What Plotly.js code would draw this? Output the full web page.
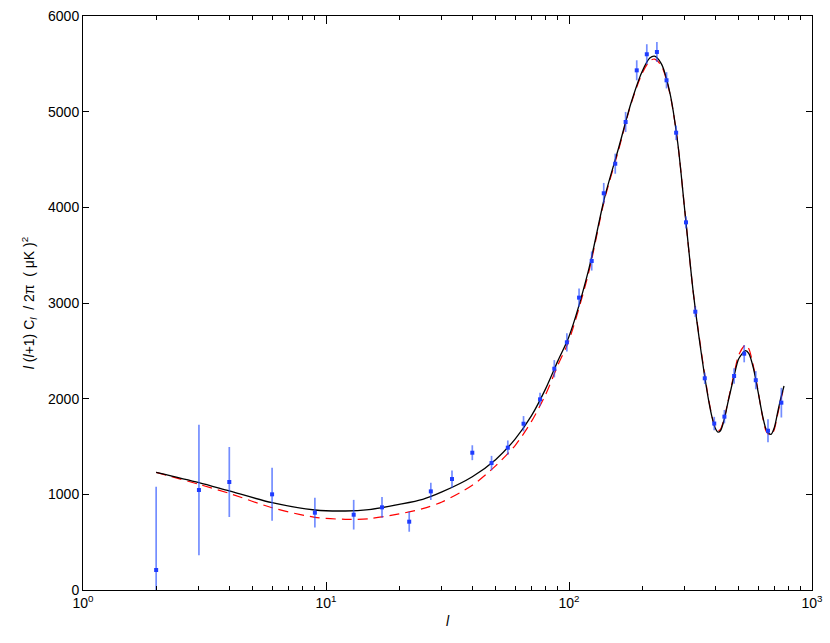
<!DOCTYPE html>
<html>
<head>
<meta charset="utf-8">
<script src="https://cdn.plot.ly/plotly-3.0.1.min.js"></script>
<style>
  html, body { margin: 0; padding: 0; background: #fff; }
  #chart { width: 830px; height: 643px; }
</style>
</head>
<body>
<div id="chart"></div>
<script>
// measured band powers
const ell = [2, 3, 4, 6, 9, 13, 17, 22, 27, 33, 40, 48, 56, 65, 76, 87, 98, 110, 124, 139,
  155, 171, 190, 209, 230, 252, 276, 303, 331, 362, 396, 436, 478, 526, 587, 659, 748];
const power = [209, 1045, 1129, 1000, 808, 787, 864, 714, 1031, 1160, 1435, 1327, 1488, 1738, 1993, 2313, 2589, 3056, 3439, 4147,
  4456, 4892, 5432, 5600, 5624, 5328, 4780, 3843, 2909, 2213, 1740, 1812, 2237, 2470, 2193, 1665, 1958];
const powerErr = [870, 683, 366, 277, 155, 155, 108, 105, 90, 90, 78, 75, 75, 80, 70, 90, 95, 95, 100, 108,
  105, 105, 105, 105, 105, 85, 75, 65, 55, 60, 70, 70, 80, 90, 95, 120, 155];

// best-fit model (solid black)
const modelEll = [2, 3, 4, 6, 9, 12, 15, 20, 25, 30, 40, 50, 60, 70, 80, 90, 100, 120, 140, 160,
  180, 200, 215, 225, 240, 260, 280, 300, 325, 350, 375, 390, 400, 410, 420, 436, 450, 478, 500, 533,
  550, 575, 600, 625, 650, 678, 700, 720, 740, 767];
const modelA = [1230, 1122, 1035, 913, 836, 826, 840, 895, 948, 1025, 1184, 1365, 1578, 1820, 2100, 2395, 2650, 3330, 4100, 4620,
  5090, 5420, 5560, 5580, 5500, 5200, 4680, 3950, 3100, 2480, 1990, 1780, 1690, 1650, 1665, 1790, 1950, 2237, 2420, 2502,
  2470, 2310, 2070, 1830, 1670, 1627, 1700, 1840, 1980, 2132];
// alternative model (dashed red)
const modelB = [1230, 1105, 1010, 860, 760, 739, 745, 795, 850, 920, 1094, 1300, 1510, 1760, 2040, 2350, 2610, 3300, 4080, 4600,
  5080, 5400, 5530, 5550, 5480, 5190, 4680, 3950, 3100, 2500, 2000, 1790, 1700, 1665, 1680, 1800, 1960, 2260, 2460, 2564,
  2520, 2330, 2080, 1820, 1650, 1617, 1680, 1820, 1960, 2120];

const xTickVals = [1, 10, 100, 1000];
const xTickText = ['10<sup>0</sup>', '10<sup>1</sup>', '10<sup>2</sup>', '10<sup>3</sup>'];
const xMinorVals = [];
[1, 10, 100].forEach(d => { for (let k = 2; k <= 9; k++) xMinorVals.push(d * k); });

const traces = [
  {
    x: modelEll, y: modelB,
    mode: 'lines',
    line: { color: '#ff0000', width: 1.2, dash: '10px,6px', shape: 'spline', smoothing: 0.8 },
    hoverinfo: 'skip',
  },
  {
    x: modelEll, y: modelA,
    mode: 'lines',
    line: { color: '#000000', width: 1.3, shape: 'spline', smoothing: 0.8 },
    hoverinfo: 'skip',
  },
  {
    x: ell, y: power,
    mode: 'markers',
    marker: { color: '#1f3cff', size: 4, symbol: 'square' },
    error_y: { type: 'data', array: powerErr, visible: true, width: 0, thickness: 1.7, color: 'rgba(40,80,255,0.65)' },
  },
];

const axisFont = { family: 'Liberation Sans, Arial, sans-serif', size: 14, color: '#000' };

const layout = {
  width: 830,
  height: 643,
  showlegend: false,
  margin: { t: 16, r: 18, b: 53, l: 83 },
  paper_bgcolor: '#fff',
  plot_bgcolor: '#fff',
  font: axisFont,
  xaxis: {
    type: 'log',
    range: [0, 3],
    tickmode: 'array',
    tickvals: xTickVals,
    ticktext: xTickText,
    ticks: 'inside',
    ticklen: 8,
    tickcolor: '#000',
    showline: true,
    linecolor: '#000',
    linewidth: 1,
    mirror: 'allticks',
    showgrid: false,
    zeroline: false,
    minor: { tickmode: 'array', tickvals: xMinorVals, ticks: 'inside', ticklen: 4, tickcolor: '#000' },
    tickfont: axisFont,
    title: { text: '<i>l</i>', font: axisFont, standoff: 6 },
  },
  yaxis: {
    range: [0, 6000],
    tickmode: 'array',
    tickvals: [0, 1000, 2000, 3000, 4000, 5000, 6000],
    ticks: 'inside',
    ticklen: 6,
    tickcolor: '#000',
    showline: true,
    linecolor: '#000',
    linewidth: 1,
    mirror: 'allticks',
    showgrid: false,
    zeroline: false,
    tickfont: axisFont,
    title: { text: '<i>l</i> (<i>l</i>+1) C<sub><i>l</i></sub>  / 2π  ( μK )<sup>2</sup>', font: axisFont, standoff: 10 },
  },
};

Plotly.newPlot('chart', traces, layout, { displayModeBar: false, staticPlot: true });
</script>
</body>
</html>
